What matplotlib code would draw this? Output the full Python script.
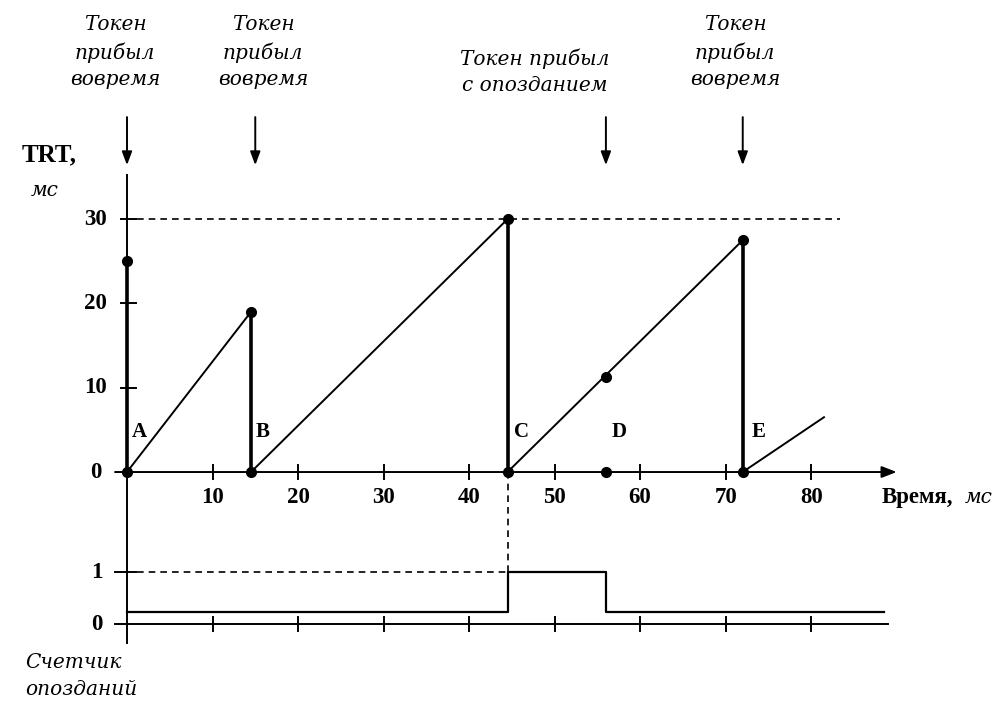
import matplotlib.pyplot as plt

# TRT sawtooth: token arrivals and the TRT value reached just before reset
resets = [0, 14.5, 44.5, 72]
peaks = [25, 19, 30, 27.5]
ramp_x = [[0, 14.5], [14.5, 44.5], [44.5, 72], [72, 81.5]]
ramp_y = [[0, 19], [0, 30], [0, 27.5], [0, 6.5]]
extra_pts_x = [56, 56]
extra_pts_y = [11.3, 0]

labels = ["A", "B", "C", "D", "E"]
label_x = [1.5, 15.9, 46.1, 57.5, 73.9]

arrow_x = [0, 15, 56, 72]
head_x = [-1.4, 15.9, 47.7, 71.1]
head_y = [49.8, 49.8, 47.5, 49.8]
head_txt = ["Токен\nприбыл\nвовремя", "Токен\nприбыл\nвовремя",
            "Токен прибыл\nс опозданием", "Токен\nприбыл\nвовремя"]

xticks = [10, 20, 30, 40, 50, 60, 70, 80]
yticks = [0, 10, 20, 30]

# late counter (drawn slightly above 0 for visibility)
cnt_x = [0, 44.5, 44.5, 56, 56, 88.5]
cnt_y = [0.23, 0.23, 1, 1, 0.23, 0.23]

fig = plt.figure(figsize=(10.01, 7.02), dpi=100)
ax = fig.add_axes([0, 0, 1, 1])
ax.set_xlim(-14.85, 102.2)
ax.set_ylim(-27.28, 55.99)
ax.axis("off")
bx = fig.add_axes([0, 0, 1, 1])
bx.set_xlim(-14.85, 102.2)
bx.set_ylim(-1.5, 12.0)
bx.axis("off")
bx.patch.set_alpha(0)

k = "black"
num = dict(family="Liberation Serif", weight="bold", fontsize=16.5, color=k)
ital = dict(family="DejaVu Serif", style="italic", fontsize=14.5, color=k)

# --- top panel axes
ax.plot([0, 0], [0, 35.2], color=k, lw=1.4)
ax.annotate("", xy=(90, 0), xytext=(-1.4, 0),
            arrowprops=dict(arrowstyle="-|>,head_length=0.9,head_width=0.35",
                            color=k, lw=1.4, shrinkA=0, shrinkB=0))
for t in xticks:
    ax.plot([t, t], [-0.85, 0.85], color=k, lw=1.4)
    ax.text(t, -3.0, str(t), ha="center", va="center", **num)
for t in yticks:
    if t:
        ax.plot([-0.7, 1.1], [t, t], color=k, lw=1.4)
    ax.text(-3.7, t, str(t), ha="center", va="center", **num)

ax.plot([1.2, 83.4], [30, 30], color=k, lw=1.2, ls=(0, (4, 3)))
ax.plot([44.5, 44.5], [0, -11.9], color=k, lw=1.2, ls=(0, (4, 3)))

for x0, p in zip(resets, peaks):
    ax.plot([x0, x0], [0, p], color=k, lw=2.6, solid_capstyle="butt")
    ax.plot([x0, x0], [0, p], "o", color=k, ms=7)
for xs, ys in zip(ramp_x, ramp_y):
    ax.plot(xs, ys, color=k, lw=1.4)
ax.plot(extra_pts_x, extra_pts_y, "o", color=k, ms=7, ls="none")

for lb, lx in zip(labels, label_x):
    ax.text(lx, 4.7, lb, ha="center", va="center",
            family="Liberation Serif", weight="bold", fontsize=15)

for ax_x in arrow_x:
    ax.annotate("", xy=(ax_x, 36.4), xytext=(ax_x, 42.1),
                arrowprops=dict(arrowstyle="-|>,head_length=0.8,head_width=0.3",
                                color=k, lw=1.4, shrinkA=0, shrinkB=0))
for hx, hy, ht in zip(head_x, head_y, head_txt):
    ax.text(hx, hy, ht, ha="center", va="center", linespacing=1.5, **ital)

ax.text(-9.1, 37.6, "TRT,", ha="center", va="center",
        family="Liberation Serif", weight="bold", fontsize=18)
ax.text(-9.6, 33.4, "мс", ha="center", va="center", **ital)
ax.text(88.2, -3.0, "Время,", ha="left", va="center", **num)
ax.text(98.0, -3.0, "мс", ha="left", va="center", **ital)

# --- bottom panel
bx.plot([0, 0], [-0.37, 2.92], color=k, lw=1.4)
bx.plot([-1.4, 89], [0, 0], color=k, lw=1.4)
for t in xticks:
    bx.plot([t, t], [-0.13, 0.13], color=k, lw=1.4)
bx.plot([-1.4, 1.1], [1, 1], color=k, lw=1.4)
bx.plot([1.2, 44.5], [1, 1], color=k, lw=1.2, ls=(0, (4, 3)))
bx.plot(cnt_x, cnt_y, color=k, lw=1.6)
bx.text(-3.5, 1, "1", ha="center", va="center", **num)
bx.text(-3.5, 0, "0", ha="center", va="center", **num)
bx.text(-11.9, -1.0, "Счетчик\nопозданий", ha="left", va="center",
        linespacing=1.5, **ital)

fig.savefig("out.png", dpi=100)
